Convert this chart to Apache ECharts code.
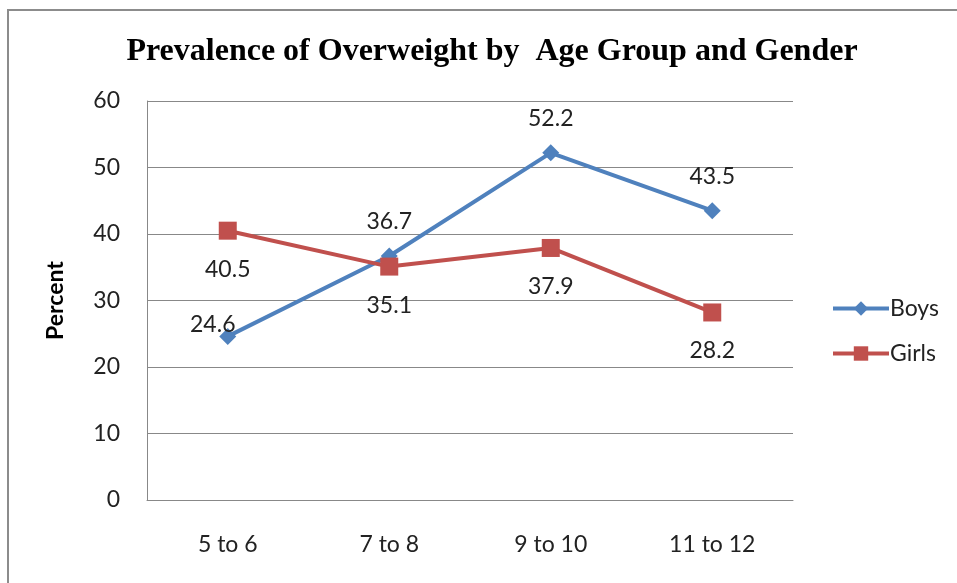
<!DOCTYPE html>
<html>
<head>
<meta charset="utf-8">
<script src="https://cdn.jsdelivr.net/npm/echarts@6/dist/echarts.min.js"></script>
<style>
  html,body{margin:0;padding:0;background:#fff;overflow:hidden;}
  #main{width:957px;height:583px;}
  #frame{position:absolute;left:7px;top:9px;width:980px;height:600px;border:2px solid #8c8c8c;pointer-events:none;}
</style>
</head>
<body>
<div id="main"></div>
<div id="frame"></div>
<script>
// categories and values
var ageGroups = ['5 to 6', '7 to 8', '9 to 10', '11 to 12'];
var boys = [24.6, 36.7, 52.2, 43.5];
var girls = [40.5, 35.1, 37.9, 28.2];

var chart = echarts.init(document.getElementById('main'));
var labelFont = 'Lato, "Open Sans", sans-serif';

// first boys label sits up-left of its marker, like in the original
var boysData = boys.map(function (v, i) {
  if (i == 0) {
    return {value: v, label: {offset: [-15, 22]}};
  }
  return v;
});

chart.setOption({
  animation: false,
  title: {
    text: 'Prevalence of Overweight by  Age Group and Gender',
    left: 487,
    top: 31,
    textAlign: 'center',
    textStyle: {
      fontFamily: '"Liberation Serif", "Times New Roman", serif',
      fontWeight: 'bold',
      fontSize: 32,
      color: '#000'
    }
  },
  legend: {
    orient: 'vertical',
    left: 826,
    top: 292,
    itemGap: 22,
    itemWidth: 56,
    itemHeight: 18,
    lineStyle: {width: 4},
    textStyle: {fontFamily: labelFont, fontSize: 23, color: '#222', padding: [0, 0, 0, -4]},
    data: ['Boys', 'Girls']
  },
  grid: {left: 147, top: 101, width: 646, height: 399, containLabel: false},
  xAxis: {
    type: 'category',
    data: ageGroups,
    boundaryGap: true,
    axisLine: {lineStyle: {color: '#888', width: 1}},
    axisTick: {show: false},
    axisLabel: {fontFamily: labelFont, fontSize: 23, color: '#222', margin: 33}
  },
  yAxis: {
    type: 'value',
    min: 0,
    max: 60,
    interval: 10,
    name: 'Percent',
    nameLocation: 'middle',
    nameGap: 80,
    nameRotate: 90,
    nameTextStyle: {fontFamily: labelFont, fontSize: 23, fontWeight: 'bold', color: '#000'},
    axisLine: {show: true, lineStyle: {color: '#888', width: 1}},
    axisTick: {show: false},
    splitLine: {lineStyle: {color: '#888', width: 1}},
    axisLabel: {fontFamily: labelFont, fontSize: 23, color: '#222', margin: 27}
  },
  series: [
    {
      name: 'Boys',
      type: 'line',
      data: boysData,
      symbol: 'diamond',
      symbolSize: 17,
      itemStyle: {color: '#4F81BD'},
      lineStyle: {color: '#4F81BD', width: 4},
      label: {show: true, position: 'top', distance: 14, fontFamily: labelFont, fontSize: 23, color: '#222'}
    },
    {
      name: 'Girls',
      type: 'line',
      data: girls,
      symbol: 'rect',
      symbolSize: 18,
      itemStyle: {color: '#C0504D'},
      lineStyle: {color: '#C0504D', width: 4},
      label: {show: true, position: 'bottom', distance: 18, fontFamily: labelFont, fontSize: 23, color: '#222'}
    }
  ]
});
</script>
</body>
</html>
